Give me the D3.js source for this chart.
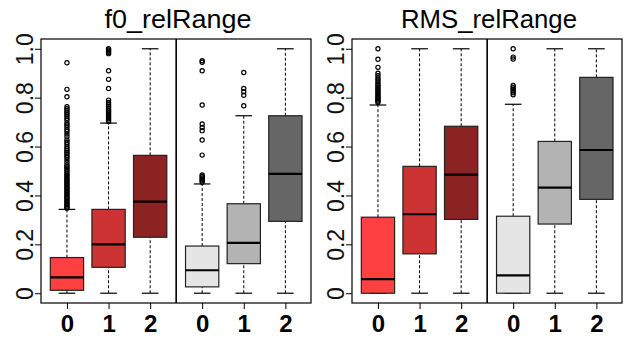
<!DOCTYPE html>
<html>
<head>
<meta charset="utf-8">
<script src="https://cdn.jsdelivr.net/npm/d3@7"></script>
<style>
  body { margin: 0; background: #fff; }
  svg { display: block; font-family: "Liberation Sans", Arial, sans-serif; }
</style>
</head>
<body>
<div id="chart"></div>
<script>
// categories and groups
const categories = ["0", "1", "2"];
const panelTitles = ["f0_relRange", "RMS_relRange"];
const boxColors = ["#FF4040", "#CD3333", "#8B2323", "#E5E5E5", "#B3B3B3", "#666666"];
const yTicks = [0, 0.2, 0.4, 0.6, 0.8, 1.0];

// f0_relRange (red 0,1,2 then grey 0,1,2)
const f0WhiskerLow = [0, 0, 0, 0, 0, 0];
const f0Q1 = [0.012, 0.106, 0.229, 0.026, 0.121, 0.294];
const f0Median = [0.065, 0.200, 0.375, 0.094, 0.206, 0.488];
const f0Q3 = [0.146, 0.343, 0.564, 0.193, 0.366, 0.726];
const f0WhiskerHigh = [0.343, 0.696, 1.0, 0.447, 0.726, 1.0];
const f0Outliers = [
  [0.943, 0.834, 0.804, 0.763, 0.755, 0.748, 0.740, 0.733, 0.725, 0.716, 0.708, 0.696, 0.688, 0.680,
   0.670, 0.662, 0.651, 0.640, 0.627, 0.618, 0.610, 0.600, 0.592, 0.585, 0.577, 0.570, 0.562, 0.555,
   0.545, 0.535, 0.525, 0.518, 0.512, 0.505, 0.498, 0.490, 0.484, 0.478, 0.470, 0.464, 0.458, 0.452,
   0.446, 0.440, 0.434, 0.428, 0.422, 0.416, 0.410, 0.404, 0.398, 0.392, 0.386, 0.380, 0.374, 0.368,
   0.362, 0.357, 0.352, 0.348],
  [1.0, 0.995, 0.990, 0.985, 0.980, 0.910, 0.875, 0.838, 0.790, 0.780, 0.772, 0.765, 0.758, 0.750,
   0.745, 0.738, 0.732, 0.726, 0.720, 0.714, 0.708, 0.702],
  [],
  [0.951, 0.945, 0.910, 0.770, 0.692, 0.678, 0.665, 0.627, 0.565, 0.484, 0.478, 0.472, 0.466, 0.460, 0.454],
  [0.903, 0.838, 0.824, 0.810, 0.767],
  []
];

// RMS_relRange
const rmsWhiskerLow = [0, 0, 0, 0, 0, 0];
const rmsQ1 = [0, 0.161, 0.302, 0, 0.283, 0.384];
const rmsMedian = [0.058, 0.323, 0.485, 0.073, 0.432, 0.586];
const rmsQ3 = [0.311, 0.519, 0.683, 0.315, 0.621, 0.883];
const rmsWhiskerHigh = [0.770, 1.0, 1.0, 0.773, 1.0, 1.0];
const rmsOutliers = [
  [1.0, 0.957, 0.924, 0.900, 0.890, 0.880, 0.872, 0.864, 0.856, 0.850, 0.843, 0.836, 0.830, 0.824,
   0.818, 0.812, 0.806, 0.800, 0.795, 0.790, 0.785, 0.780],
  [],
  [],
  [1.0, 0.966, 0.958, 0.850, 0.842, 0.835, 0.828, 0.820, 0.812],
  [],
  []
];

const width = 627, height = 338;
const svg = d3.select("#chart").append("svg")
  .attr("width", width).attr("height", height);
svg.append("rect").attr("width", width).attr("height", height).attr("fill", "#fff");

const panelData = [
  {title: panelTitles[0], lo: f0WhiskerLow, q1: f0Q1, med: f0Median, q3: f0Q3, hi: f0WhiskerHigh, out: f0Outliers},
  {title: panelTitles[1], lo: rmsWhiskerLow, q1: rmsQ1, med: rmsMedian, q3: rmsQ3, hi: rmsWhiskerHigh, out: rmsOutliers}
];

const plotTop = 39, plotBottom = 303, plotW = 270;
const panelLeft = [41, 352];

// y scale (R style 4% padding)
const y = d3.scaleLinear().domain([-0.04, 1.04]).range([plotBottom, plotTop]);

// group position: red 1..3, grey 4.25..6.25
const groupPos = i => (i < 3 ? i + 1 : i + 1.25);

panelData.forEach((p, pi) => {
  const left = panelLeft[pi];
  const x = d3.scaleLinear().domain([0.376, 6.866]).range([left, left + plotW]);
  const bw = (x(1) - x(0)) * 0.8;
  const capW = bw * 0.5;
  const g = svg.append("g");

  // title
  g.append("text")
    .attr("x", left + plotW / 2 + 2)
    .attr("y", 28)
    .attr("text-anchor", "middle")
    .attr("font-size", 26)
    .attr("textLength", pi === 0 ? 147 : 176)
    .attr("lengthAdjust", "spacingAndGlyphs")
    .text(p.title);

  // y axis
  const yAxis = g.append("g")
    .attr("transform", `translate(${left},0)`)
    .call(d3.axisLeft(y).tickValues(yTicks).tickSize(6).tickSizeOuter(0)
      .tickFormat(d => d === 0 ? "0" : d3.format(".1f")(d)));
  yAxis.select(".domain").remove();
  yAxis.selectAll(".tick line").attr("stroke", "#000");
  yAxis.selectAll(".tick text")
    .attr("x", 0).attr("y", -8).attr("dy", 0)
    .attr("transform", "rotate(-90)")
    .attr("text-anchor", "middle")
    .attr("font-size", 23)
    .attr("fill", "#111");

  // x axis
  const xAxis = g.append("g")
    .attr("transform", `translate(0,${plotBottom})`)
    .call(d3.axisBottom(x).tickValues(d3.range(6).map(groupPos)).tickSize(6).tickSizeOuter(0)
      .tickFormat((d, i) => categories[i % 3]));
  xAxis.select(".domain").remove();
  xAxis.selectAll(".tick line").attr("stroke", "#000");
  xAxis.selectAll(".tick text")
    .attr("y", 29).attr("dy", 0)
    .attr("font-size", 24)
    .attr("font-weight", "bold")
    .attr("fill", "#000");

  const groups = d3.range(6);

  // whiskers
  g.selectAll(".wlow").data(groups).join("line")
    .attr("x1", i => x(groupPos(i))).attr("x2", i => x(groupPos(i)))
    .attr("y1", i => y(p.lo[i])).attr("y2", i => y(p.q1[i]))
    .attr("stroke", "#000").attr("stroke-dasharray", "3,2");
  g.selectAll(".whigh").data(groups).join("line")
    .attr("x1", i => x(groupPos(i))).attr("x2", i => x(groupPos(i)))
    .attr("y1", i => y(p.q3[i])).attr("y2", i => y(p.hi[i]))
    .attr("stroke", "#000").attr("stroke-dasharray", "3,2");
  // caps
  [p.lo, p.hi].forEach(arr => {
    g.selectAll(null).data(groups).join("line")
      .attr("x1", i => x(groupPos(i)) - capW / 2).attr("x2", i => x(groupPos(i)) + capW / 2)
      .attr("y1", i => y(arr[i])).attr("y2", i => y(arr[i]))
      .attr("stroke", "#000").attr("stroke-width", 1.2);
  });

  // boxes
  g.selectAll(".box").data(groups).join("rect")
    .attr("x", i => x(groupPos(i)) - bw / 2)
    .attr("width", bw)
    .attr("y", i => y(p.q3[i]))
    .attr("height", i => y(p.q1[i]) - y(p.q3[i]))
    .attr("fill", i => boxColors[i])
    .attr("stroke", "#222").attr("stroke-width", 1.2);

  // medians
  g.selectAll(".med").data(groups).join("line")
    .attr("x1", i => x(groupPos(i)) - bw / 2).attr("x2", i => x(groupPos(i)) + bw / 2)
    .attr("y1", i => y(p.med[i])).attr("y2", i => y(p.med[i]))
    .attr("stroke", "#000").attr("stroke-width", 2.2);

  // outliers
  groups.forEach(i => {
    g.selectAll(null).data(p.out[i]).join("circle")
      .attr("cx", x(groupPos(i)))
      .attr("cy", d => y(d))
      .attr("r", 2.1)
      .attr("fill", "none")
      .attr("stroke", "#000").attr("stroke-width", 1.2);
  });

  // frame and divider
  g.append("rect")
    .attr("x", left).attr("y", plotTop)
    .attr("width", plotW).attr("height", plotBottom - plotTop)
    .attr("fill", "none").attr("stroke", "#000").attr("stroke-width", 1.2);
  const mid = (x(groupPos(2)) + x(groupPos(3))) / 2;
  g.append("line")
    .attr("x1", mid).attr("x2", mid)
    .attr("y1", plotTop).attr("y2", plotBottom)
    .attr("stroke", "#000").attr("stroke-width", 1.6);
});
</script>
</body>
</html>
